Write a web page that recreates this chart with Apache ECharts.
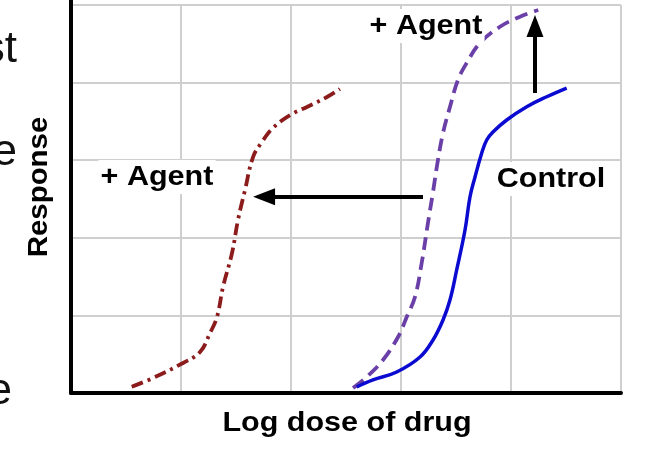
<!DOCTYPE html>
<html><head><meta charset="utf-8">
<script src="https://cdn.jsdelivr.net/npm/echarts@6/dist/echarts.min.js"></script>
<style>html,body{margin:0;padding:0;background:#fff}#c{width:654px;height:452px}</style>
</head><body><div id="c"></div>
<script>
// Agent shifts curve to the left (dash-dot, brown)
const agentLeftX = [0.552,0.745,1.018,1.173,1.264,1.327,1.382,1.464,1.518,1.582,1.655,1.736,1.836,1.991,2.145,2.327,2.445];
const agentLeftY = [0.081,0.193,0.387,0.528,0.773,0.979,1.366,1.804,2.229,2.616,3.041,3.235,3.415,3.582,3.686,3.814,3.918];
// Agent raises maximum (dashed, purple)
const agentUpX = [2.564,2.688,2.836,2.973,3.052,3.127,3.188,3.245,3.291,3.336,3.382,3.445,3.518,3.597,3.718,3.900,4.082,4.248];
const agentUpY = [0.064,0.206,0.425,0.722,0.979,1.237,1.675,2.191,2.590,3.003,3.351,3.686,4.034,4.253,4.510,4.720,4.849,4.936];
// Control (solid, blue)
const controlX = [2.597,2.745,2.961,3.173,3.291,3.382,3.445,3.506,3.582,3.627,3.673,3.734,3.779,3.836,3.961,4.143,4.325,4.506];
const controlY = [0.077,0.168,0.271,0.464,0.683,0.941,1.198,1.585,2.101,2.526,2.784,3.093,3.260,3.363,3.518,3.689,3.818,3.930];
// Axis ranges (no tick labels shown)
const xRange = [0, 5];
const yRange = [0, 5];
// Arrows (from, to) in data units
const arrowLeft = [[3.2, 2.53], [1.755, 2.53]];
const arrowUp = [[4.218, 3.866], [4.218, 4.729]];
// Texts
const xTitle = 'Log dose of drug';
const yTitle = 'Response';
const labelAgentTop = '+ Agent';
const labelAgentLeft = '+ Agent';
const labelControl = 'Control';
const edgeFragments = ['st', 'e', 'e'];

const pair = (xs, ys) => xs.map((x, i) => [x, ys[i]]);
const chart = echarts.init(document.getElementById('c'), null, {renderer: 'canvas'});
const FONT = '"Liberation Sans", Arial, Helvetica, sans-serif';
const boldText = (txt, x, y, size, extra) => Object.assign({
  type: 'text', x: x, y: y, scaleX: 1.09, z: 50,
  style: {text: txt, fill: '#000', font: 'bold ' + size + 'px ' + FONT,
          align: 'center', verticalAlign: 'middle'}
}, extra || {});
const boxed = (txt, x, y) => ({
  type: 'text', x: x, y: y, scaleX: 1.09, z: 40,
  style: {text: txt, fill: '#000', font: 'bold 28px ' + FONT,
          align: 'center', verticalAlign: 'middle',
          backgroundColor: '#fff', padding: [3, 2, 3, 2]}
});
const frag = (txt, x, y) => ({
  type: 'text', x: x, y: y, z: 50,
  style: {text: txt, fill: '#111', font: '44px ' + FONT, align: 'right', verticalAlign: 'middle'}
});

chart.setOption({
  backgroundColor: '#fff',
  animation: false,
  grid: {left: 71, right: 33, top: 5, bottom: 59, containLabel: false},
  xAxis: {
    type: 'value', min: xRange[0], max: xRange[1], interval: 1,
    axisLine: {show: true, lineStyle: {color: '#000', width: 4}},
    axisTick: {show: false}, axisLabel: {show: false},
    splitLine: {show: true, showMinLine: true, showMaxLine: true, lineStyle: {color: '#cfcfcf', width: 2}}
  },
  yAxis: {
    type: 'value', min: yRange[0], max: yRange[1], interval: 1,
    axisLine: {show: true, onZero: false, lineStyle: {color: '#000', width: 4}},
    axisTick: {show: false}, axisLabel: {show: false},
    splitLine: {show: true, showMinLine: true, showMaxLine: true, lineStyle: {color: '#cfcfcf', width: 2}}
  },
  series: [
    {type: 'line', name: '+ Agent (left shift)', data: pair(agentLeftX, agentLeftY), smooth: 0.4,
     showSymbol: false, symbol: 'none', z: 5,
     lineStyle: {color: '#8c1c1c', width: 3.8, type: [12, 5, 3, 5], cap: 'butt'}},
    {type: 'line', name: '+ Agent (higher max)', data: pair(agentUpX, agentUpY), smooth: 0.4,
     showSymbol: false, symbol: 'none', z: 5,
     lineStyle: {color: '#6a40a8', width: 3.8, type: [13, 7], cap: 'butt'}},
    {type: 'line', name: 'Control', data: pair(controlX, controlY), smooth: 0.4,
     showSymbol: false, symbol: 'none', z: 6,
     lineStyle: {color: '#0a0ad0', width: 3.5}},
    {type: 'lines', coordinateSystem: 'cartesian2d', z: 7,
     symbol: ['none', 'triangle'], symbolSize: [1, [17, 22]],
     lineStyle: {color: '#000', width: 4, opacity: 1, curveness: 0},
     data: [{coords: arrowLeft}, {coords: arrowUp}]}
  ],
  graphic: [
    {type: 'line', z: 60, shape: {x1: 71, y1: 0, x2: 71, y2: 8}, style: {stroke: '#000', lineWidth: 4}},
    boxed(labelAgentTop, 426, 26),
    boxed(labelAgentLeft, 157, 177),
    boxed(labelControl, 551, 179),
    boldText(xTitle, 347, 423, 28),
    boldText(yTitle, 40, 187, 27, {rotation: Math.PI / 2}),
    frag(edgeFragments[0], 17, 50),
    frag(edgeFragments[1], 17, 153),
    frag(edgeFragments[2], 12, 392)
  ]
});
</script></body></html>
